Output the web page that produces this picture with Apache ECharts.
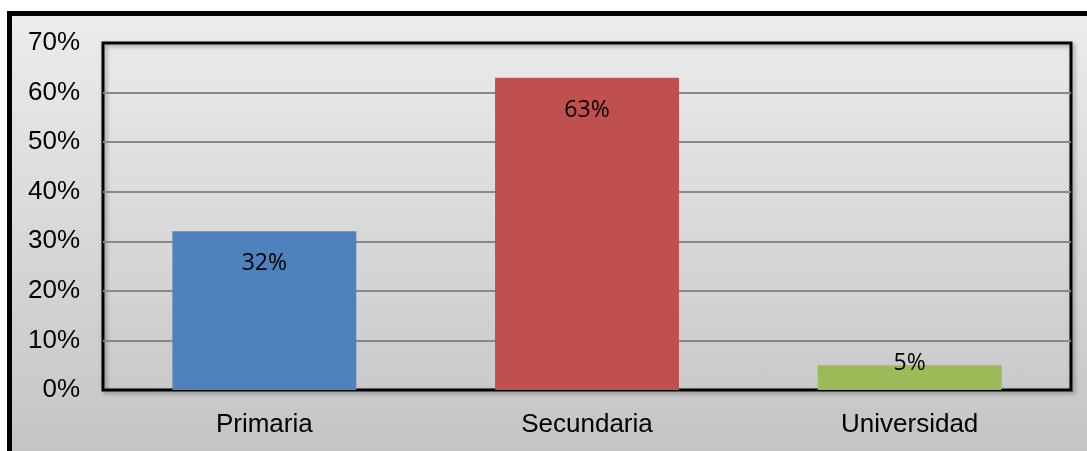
<!DOCTYPE html>
<html>
<head>
<meta charset="utf-8">
<script src="https://cdn.jsdelivr.net/npm/echarts@6/dist/echarts.min.js"></script>
<style>
  html, body { margin: 0; padding: 0; background: #ffffff; }
  #frame {
    position: absolute; left: 7px; top: 11px; width: 1100px; height: 460px;
    border-left: 5px solid #000; border-top: 5px solid #000;
    background: linear-gradient(to bottom, #ececec 0%, #c2c2c2 100%);
  }
  #chart { position: absolute; left: 0; top: 0; width: 1087px; height: 451px; }
</style>
</head>
<body>
<div id="frame"></div>
<div id="chart"></div>
<script>
// Nivel de estudios alcanzado
const categories = ['Primaria', 'Secundaria', 'Universidad'];
const values = [32, 63, 5];
const barColors = ['#4f81bd', '#c0504d', '#9bbb59'];
const yTicks = [0, 10, 20, 30, 40, 50, 60, 70];

const chart = echarts.init(document.getElementById('chart'), null, { renderer: 'canvas' });

const seriesData = values.map((v, i) => {
  const item = { value: v, itemStyle: { color: barColors[i] } };
  if (v < 10) {
    // short bar: the label sits just over its top edge
    item.label = { position: 'top', distance: -10 };
  }
  return item;
});

chart.setOption({
  backgroundColor: 'transparent',
  animation: false,
  grid: {
    left: 103, top: 43, right: 16, bottom: 61,
    show: true,
    borderColor: '#000000',
    borderWidth: 3,
    backgroundColor: 'rgba(0,0,0,0)',
    shadowColor: 'rgba(0,0,0,0.35)',
    shadowBlur: 4,
    shadowOffsetX: 2,
    shadowOffsetY: 2
  },
  xAxis: {
    type: 'category',
    data: categories,
    axisLine: { show: false },
    axisTick: { show: false },
    axisLabel: {
      margin: 22,
      fontFamily: 'Liberation Sans, Arial, sans-serif',
      fontSize: 26,
      color: '#000000'
    }
  },
  yAxis: {
    type: 'value',
    min: yTicks[0],
    max: yTicks[yTicks.length - 1],
    interval: 10,
    axisLine: { show: false },
    axisTick: { show: false },
    splitLine: {
      showMinLine: false,
      showMaxLine: false,
      lineStyle: { color: '#888888', width: 2 }
    },
    axisLabel: {
      margin: 23,
      padding: [6, 0, 0, 0],
      fontFamily: 'Liberation Sans, Arial, sans-serif',
      fontSize: 26,
      color: '#000000',
      formatter: v => v + '%'
    }
  },
  series: [{
    type: 'bar',
    data: seriesData,
    barWidth: '57%',
    label: {
      show: true,
      position: 'insideTop',
      distance: 21,
      fontFamily: 'Open Sans, Noto Sans, sans-serif',
      fontSize: 23,
      color: '#000000',
      formatter: p => p.value + '%'
    }
  }]
});
</script>
</body>
</html>
